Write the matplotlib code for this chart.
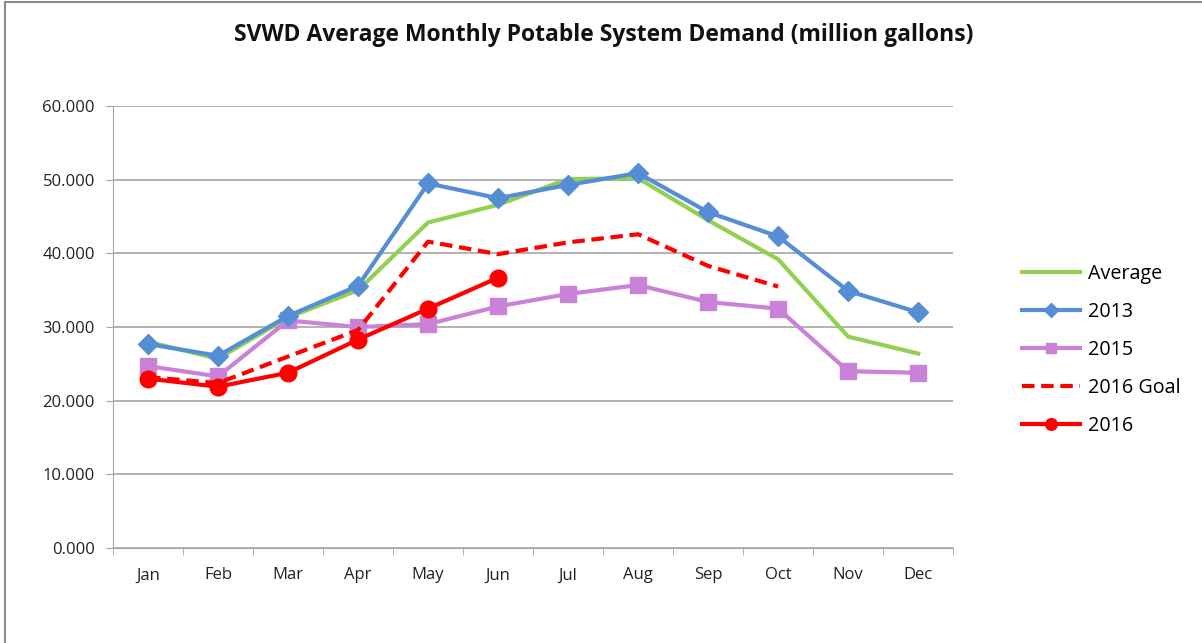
import numpy as np
import matplotlib
matplotlib.use("Agg")
import matplotlib.pyplot as plt
from matplotlib.lines import Line2D

# Meses e demanda (milhões de galões)
meses = ['Jan', 'Feb', 'Mar', 'Apr', 'May', 'Jun', 'Jul', 'Aug', 'Sep', 'Oct', 'Nov', 'Dec']
media = [28.0, 25.7, 31.3, 35.0, 44.2, 46.6, 50.1, 50.2, 44.5, 39.2, 28.7, 26.4]
ano_2013 = [27.7, 26.1, 31.5, 35.6, 49.5, 47.5, 49.3, 50.9, 45.6, 42.3, 34.9, 32.0]
ano_2015 = [24.7, 23.3, 30.9, 30.0, 30.4, 32.8, 34.5, 35.7, 33.4, 32.5, 24.0, 23.8]
meta_2016 = [23.2, 22.4, 26.0, 29.6, 41.6, 39.9, 41.5, 42.6, 38.3, 35.5]
ano_2016 = [23.0, 21.9, 23.8, 28.3, 32.5, 36.7]
yticks = [0, 10, 20, 30, 40, 50, 60]

plt.rcParams['font.family'] = ['Open Sans', 'DejaVu Sans']

fig = plt.figure(figsize=(12.02, 6.43), dpi=100)
ax = fig.add_axes([0.094, 0.1477, 0.699, 0.6873])

x = np.arange(len(meses))
ax.plot(x, media, color='#92D050', lw=3, label='Average', zorder=2)
ax.plot(x, ano_2013, color='#558ED5', lw=3, marker='D', ms=10, label='2013', zorder=3)
ax.plot(x, ano_2015, color='#C982D8', lw=3, marker='s', ms=11, label='2015', zorder=2)
ax.plot(x[:len(meta_2016)], meta_2016, color='#FF0000', lw=3, ls=(0, (3, 1.6)), label='2016 Goal', zorder=3)
ax.plot(x[:len(ano_2016)], ano_2016, color='#FF0000', lw=3, marker='o', ms=12, label='2016', zorder=4)

ax.set_xlim(-0.5, 11.5)
ax.set_ylim(0, 60)
ax.set_yticks(yticks)
ax.set_yticklabels([f'{v:.3f}' for v in yticks], fontsize=12, color='#222222')
ax.set_xticks(x)
ax.set_xticklabels(meses, fontsize=12, color='#222222')
ax.set_xticks(np.arange(-0.5, 12, 1), minor=True)
ax.tick_params(axis='x', which='major', length=0, pad=14)
ax.tick_params(axis='x', which='minor', length=5, color='#A6A6A6')
ax.tick_params(axis='y', length=5, color='#A6A6A6', pad=8)
ax.grid(axis='y', color='#A6A6A6', lw=1.2)
ax.set_axisbelow(True)
for s in ['top', 'right']:
    ax.spines[s].set_visible(False)
ax.spines['left'].set_color('#A6A6A6')
ax.spines['bottom'].set_color('#A6A6A6')

fig.text(0.502, 0.945, 'SVWD Average Monthly Potable System Demand (million gallons)',
         ha='center', va='center', fontsize=16.5, fontweight='bold', color='#111111')

ax.legend(loc='center left', bbox_to_anchor=(0.850, 0.456), bbox_transform=fig.transFigure,
          frameon=False, fontsize=14.2, markerscale=0.7, borderpad=0, borderaxespad=0,
          handlelength=2.95, labelspacing=0.92, handletextpad=0.4)

# moldura do gráfico
fig.add_artist(Line2D([0.004, 0.004], [0, 0.997], color='#8C8C8C', lw=1.5))
fig.add_artist(Line2D([0.004, 1.0], [0.997, 0.997], color='#8C8C8C', lw=1.5))

fig.savefig('out.png', dpi=100)
